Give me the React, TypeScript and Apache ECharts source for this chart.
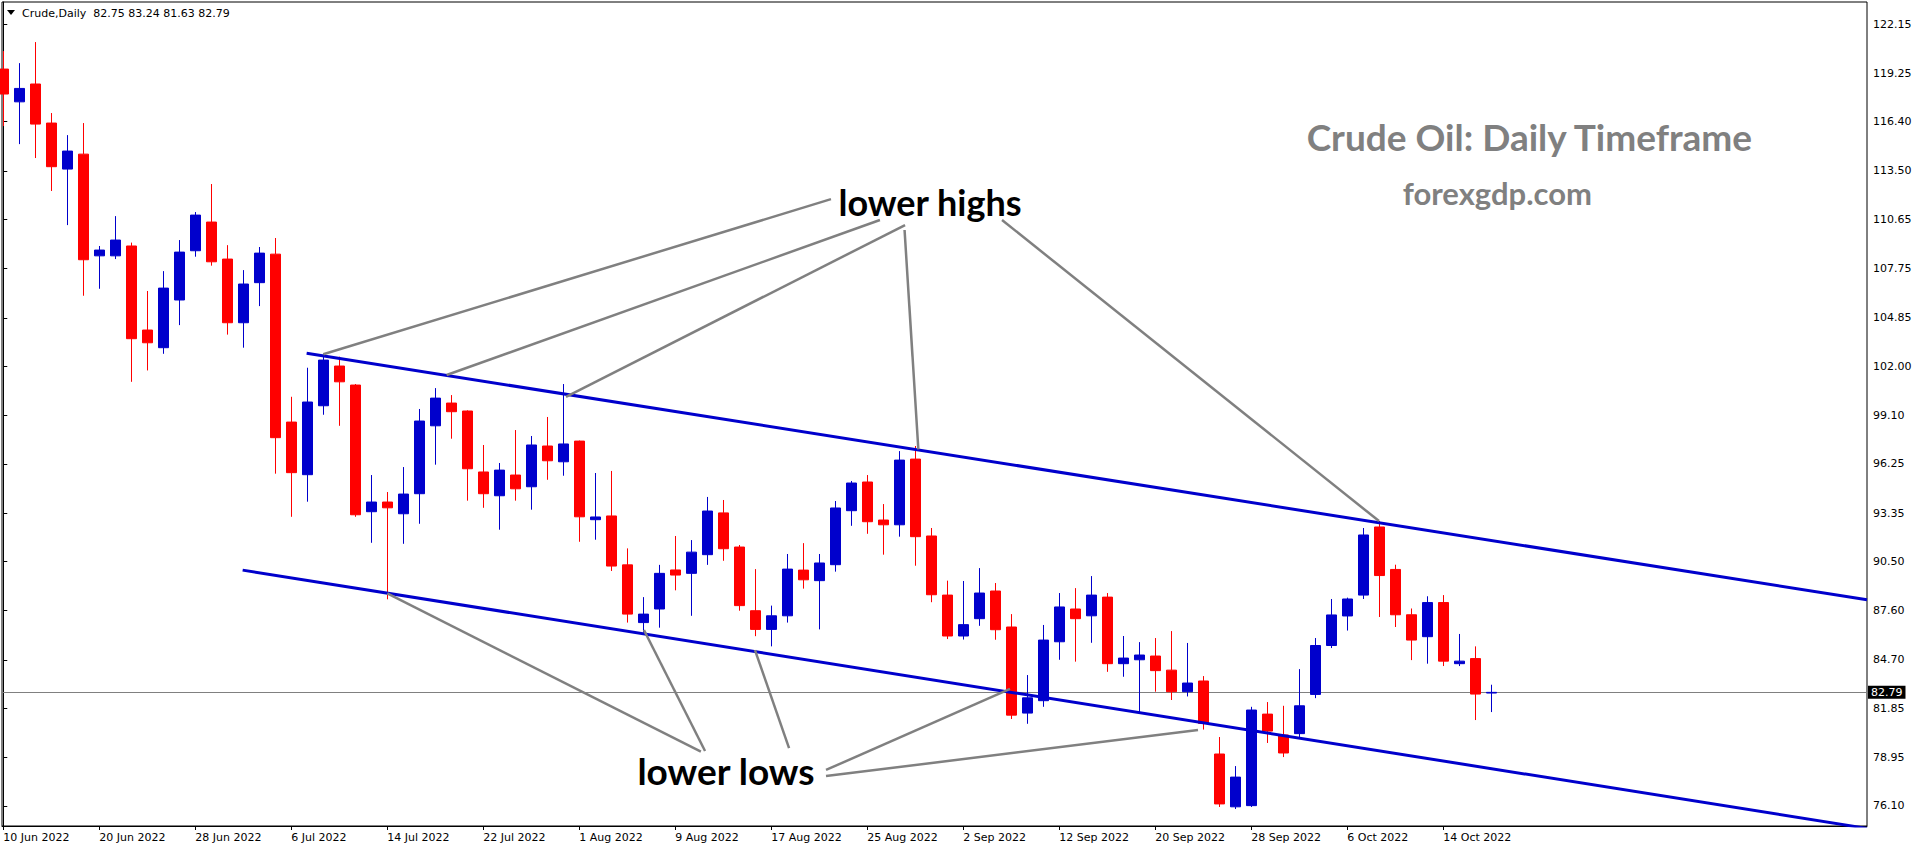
import React, { useEffect, useRef } from "react";
import * as echarts from "echarts";

// ---- data -------------------------------------------------------------
const dates = [
  "10 Jun 2022", "13 Jun 2022", "14 Jun 2022", "15 Jun 2022", "16 Jun 2022", "17 Jun 2022",
  "20 Jun 2022", "21 Jun 2022", "22 Jun 2022", "23 Jun 2022", "24 Jun 2022", "27 Jun 2022",
  "28 Jun 2022", "29 Jun 2022", "30 Jun 2022", "1 Jul 2022", "4 Jul 2022", "5 Jul 2022",
  "6 Jul 2022", "7 Jul 2022", "8 Jul 2022", "11 Jul 2022", "12 Jul 2022", "13 Jul 2022",
  "14 Jul 2022", "15 Jul 2022", "18 Jul 2022", "19 Jul 2022", "20 Jul 2022", "21 Jul 2022",
  "22 Jul 2022", "25 Jul 2022", "26 Jul 2022", "27 Jul 2022", "28 Jul 2022", "29 Jul 2022",
  "1 Aug 2022", "2 Aug 2022", "3 Aug 2022", "4 Aug 2022", "5 Aug 2022", "8 Aug 2022",
  "9 Aug 2022", "10 Aug 2022", "11 Aug 2022", "12 Aug 2022", "15 Aug 2022", "16 Aug 2022",
  "17 Aug 2022", "18 Aug 2022", "19 Aug 2022", "22 Aug 2022", "23 Aug 2022", "24 Aug 2022",
  "25 Aug 2022", "26 Aug 2022", "29 Aug 2022", "30 Aug 2022", "31 Aug 2022", "1 Sep 2022",
  "2 Sep 2022", "5 Sep 2022", "6 Sep 2022", "7 Sep 2022", "8 Sep 2022", "9 Sep 2022",
  "12 Sep 2022", "13 Sep 2022", "14 Sep 2022", "15 Sep 2022", "16 Sep 2022", "19 Sep 2022",
  "20 Sep 2022", "21 Sep 2022", "22 Sep 2022", "23 Sep 2022", "26 Sep 2022", "27 Sep 2022",
  "28 Sep 2022", "29 Sep 2022", "30 Sep 2022", "3 Oct 2022", "4 Oct 2022", "5 Oct 2022",
  "6 Oct 2022", "7 Oct 2022", "10 Oct 2022", "11 Oct 2022", "12 Oct 2022", "13 Oct 2022",
  "14 Oct 2022", "17 Oct 2022", "18 Oct 2022", "19 Oct 2022",
];

const opens = [
  119.5, 117.57, 118.62, 116.32, 113.61, 114.49, 108.5, 108.5, 109.08, 104.13,
  103.09, 105.9, 108.8, 110.49, 108.31, 104.56, 106.92, 108.6, 98.71, 95.61,
  99.67, 102.01, 100.89, 93.43, 94.0, 93.31, 94.49, 98.49, 99.83, 99.36,
  95.77, 94.37, 95.59, 94.9, 97.3, 96.37, 97.59, 92.96, 93.18, 90.3,
  86.9, 87.7, 90.0, 89.8, 90.9, 93.36, 91.35, 87.6, 86.5, 87.3,
  89.99, 89.37, 90.31, 93.49, 95.18, 92.94, 92.66, 96.53, 92.0, 88.52,
  86.11, 87.13, 88.76, 86.64, 81.57, 82.3, 85.77, 87.7, 87.3, 88.4,
  84.48, 84.71, 84.93, 84.1, 82.83, 83.46, 79.16, 76.05, 76.12, 81.51,
  80.28, 80.36, 82.67, 85.55, 87.29, 88.52, 92.53, 90.03, 87.36, 86.07,
  88.08, 84.48, 84.78, 82.75,
];
const highs = [
  120.56, 119.85, 121.09, 116.91, 115.61, 116.32, 109.08, 110.84, 109.28, 106.43,
  107.6, 109.43, 111.08, 112.73, 109.13, 107.66, 109.02, 109.55, 100.2, 101.91,
  102.73, 102.56, 100.95, 95.59, 94.59, 96.06, 99.48, 100.71, 100.3, 99.4,
  97.36, 96.3, 98.24, 97.89, 99.01, 100.95, 97.62, 95.71, 95.83, 91.27,
  88.4, 90.3, 92.0, 91.76, 94.3, 94.12, 91.47, 90.05, 87.9, 90.94,
  91.58, 90.94, 94.06, 95.24, 95.59, 93.88, 97.0, 97.3, 92.47, 89.37,
  89.35, 90.11, 89.23, 87.4, 83.81, 86.76, 88.64, 88.93, 89.64, 88.64,
  86.11, 85.75, 85.99, 86.4, 85.7, 83.75, 80.16, 78.45, 81.94, 82.22,
  82.0, 84.16, 85.99, 88.29, 88.37, 92.47, 92.88, 90.31, 87.73, 88.45,
  88.52, 86.23, 85.5, 83.24,
];
const lows = [
  116.14, 115.08, 114.26, 112.32, 110.31, 106.15, 106.56, 108.31, 101.08, 101.75,
  102.73, 104.42, 108.45, 107.92, 103.86, 103.09, 105.54, 95.67, 93.13, 94.02,
  99.14, 98.49, 93.13, 91.6, 88.27, 91.54, 92.72, 96.2, 97.73, 94.08,
  93.66, 92.37, 94.08, 93.55, 95.31, 95.55, 91.66, 91.78, 89.94, 86.9,
  86.3, 86.6, 88.8, 87.3, 90.3, 90.54, 87.6, 86.1, 85.5, 86.9,
  88.9, 86.5, 89.9, 92.6, 92.13, 90.9, 91.96, 90.25, 88.1, 85.93,
  85.9, 86.71, 85.89, 81.22, 80.94, 81.94, 84.71, 84.6, 85.71, 84.0,
  83.71, 81.53, 82.83, 82.34, 82.55, 80.6, 76.04, 75.92, 76.04, 79.81,
  78.98, 80.16, 82.45, 85.4, 86.43, 88.29, 87.23, 86.64, 84.69, 84.48,
  84.34, 84.34, 81.16, 81.63,
];
const closes = [
  118.03, 118.36, 116.26, 113.75, 114.67, 108.27, 108.84, 109.43, 103.62, 103.38,
  106.6, 108.72, 110.9, 108.15, 104.56, 106.84, 108.66, 97.79, 95.73, 99.89,
  102.36, 101.08, 93.25, 94.0, 93.66, 94.47, 98.77, 100.12, 99.32, 95.96,
  94.49, 95.88, 94.78, 97.36, 96.43, 97.42, 93.13, 93.12, 90.23, 87.4,
  87.4, 89.8, 89.7, 91.05, 93.47, 91.25, 87.9, 86.5, 87.3, 90.05,
  89.42, 90.41, 93.65, 95.12, 92.84, 92.66, 96.47, 91.96, 88.54, 86.11,
  86.78, 88.64, 86.48, 81.45, 82.47, 85.87, 87.82, 87.13, 88.52, 84.48,
  84.81, 84.99, 84.07, 82.83, 83.34, 80.96, 76.22, 77.8, 81.75, 80.51,
  79.22, 82.0, 85.55, 87.35, 88.29, 92.06, 89.67, 87.36, 85.87, 88.08,
  84.63, 84.63, 82.69, 82.79,
];

const priceTicks = [122.15, 119.25, 116.4, 113.5, 110.65, 107.75, 104.85, 102.0, 99.1, 96.25, 93.35, 90.5, 87.6, 84.7, 81.85, 78.95, 76.1];
const dateTickBars = [0, 6, 12, 18, 24, 30, 36, 42, 48, 54, 60, 66, 72, 78, 84, 90];
const lastPrice = 82.79;

// channel lines: [barIndex, price]
const upperChannel = [[18.96, 102.76], [116.48, 88.24]];
const lowerChannel = [[14.96, 89.99], [116.48, 74.78]];

// annotation pointer lines: [barIndex, price] pairs
const lowerHighLines = [
  [[20.0, 102.7], [51.73, 111.84]],
  [[27.71, 101.48], [54.79, 110.61]],
  [[35.17, 100.2], [56.36, 110.31]],
  [[57.19, 97.1], [56.33, 110.02]],
  [[85.98, 92.88], [62.42, 110.61]],
];
const lowerLowLines = [
  [[24.0, 88.62], [43.6, 79.3]],
  [[40.04, 86.46], [43.86, 79.34]],
  [[46.98, 85.28], [49.11, 79.51]],
  [[62.92, 82.99], [51.42, 78.22]],
  [[74.67, 80.57], [51.42, 77.86]],
];

const BLUE = "#0000CC";
const RED = "#FF0000";
const GRAY = "#808080";
const FONT = "DejaVu Sans";

export default function App() {
  const ref = useRef<HTMLDivElement>(null);

  useEffect(() => {
    if (!ref.current) return;
    const chart = echarts.init(ref.current, undefined, { renderer: "svg" });

    const candleData = opens.map((o, i) => [i, o, closes[i], lows[i], highs[i]]);

    const lineSeries = (pts: number[][], color: string, width: number, z: number) => ({
      type: "line",
      data: pts,
      showSymbol: false,
      symbol: "none",
      silent: true,
      z,
      lineStyle: { color, width, type: "solid" },
    });

    const option: any = {
      animation: false,
      backgroundColor: "#ffffff",
      grid: {
        left: 2,
        top: 2,
        width: 1865,
        height: 824,
        show: true,
        borderColor: "#000",
        borderWidth: 1,
        backgroundColor: "transparent",
      },
      xAxis: {
        type: "value",
        min: -0.08,
        max: 116.48,
        axisLine: { show: true, lineStyle: { color: "#000", width: 1 } },
        axisTick: { show: true, customValues: dateTickBars, length: 4, lineStyle: { color: "#000" } },
        axisLabel: {
          customValues: dateTickBars,
          formatter: (v: number) => dates[Math.round(v)] || "",
          align: "left",
          color: "#000",
          fontFamily: FONT,
          fontSize: 11,
          margin: 6,
        },
        splitLine: { show: false },
      },
      yAxis: {
        type: "value",
        position: "right",
        min: 74.92,
        max: 123.45,
        axisLine: { show: true, lineStyle: { color: "#000", width: 1 } },
        axisTick: { show: true, customValues: priceTicks, length: 4, lineStyle: { color: "#000" } },
        axisLabel: {
          customValues: priceTicks,
          formatter: (v: number) => v.toFixed(2),
          color: "#000",
          fontFamily: FONT,
          fontSize: 11,
          margin: 6,
        },
        splitLine: { show: false },
      },
      series: [
        {
          type: "candlestick",
          data: candleData,
          barWidth: 10,
          z: 3,
          itemStyle: {
            color: BLUE,
            color0: RED,
            borderColor: BLUE,
            borderColor0: RED,
            borderWidth: 1,
          },
          markLine: {
            silent: true,
            symbol: "none",
            z: 1,
            data: [{ yAxis: lastPrice }],
            lineStyle: { color: GRAY, width: 1, type: "solid" },
            label: {
              show: true,
              position: "end",
              distance: 1,
              formatter: lastPrice.toFixed(2),
              backgroundColor: "#000",
              color: "#fff",
              fontFamily: FONT,
              fontSize: 11,
              padding: [1, 3, 1, 3],
            },
          },
        },
        lineSeries(upperChannel, BLUE, 3, 5),
        lineSeries(lowerChannel, BLUE, 3, 5),
        ...lowerHighLines.map((l) => lineSeries(l, GRAY, 2.5, 6)),
        ...lowerLowLines.map((l) => lineSeries(l, GRAY, 2.5, 6)),
      ],
      graphic: [
        {
          type: "polygon",
          shape: { points: [[7, 10], [15, 10], [11, 15]] },
          style: { fill: "#000" },
        },
        {
          type: "text",
          x: 22,
          y: 13,
          style: {
            text: "Crude,Daily  82.75 83.24 81.63 82.79",
            fill: "#000",
            font: `11px "${FONT}"`,
            verticalAlign: "middle",
          },
        },
        {
          type: "text",
          x: 1752,
          y: 136,
          style: {
            text: "Crude Oil: Daily Timeframe",
            fill: GRAY,
            font: `bold 37px Lato`,
            align: "right",
            verticalAlign: "middle",
          },
        },
        {
          type: "text",
          x: 1592,
          y: 193,
          style: {
            text: "forexgdp.com",
            fill: GRAY,
            font: `bold 31px Lato`,
            align: "right",
            verticalAlign: "middle",
          },
        },
        {
          type: "text",
          x: 930,
          y: 202,
          z: 10,
          style: {
            text: "lower highs",
            fill: "#000",
            font: `bold 36px Lato`,
            align: "center",
            verticalAlign: "middle",
          },
        },
        {
          type: "text",
          x: 726,
          y: 770,
          z: 10,
          style: {
            text: "lower lows",
            fill: "#000",
            font: `bold 37px Lato`,
            align: "center",
            verticalAlign: "middle",
          },
        },
      ],
    };

    chart.setOption(option);
    return () => chart.dispose();
  }, []);

  return (
    <div
      ref={ref}
      style={{ position: "absolute", left: 0, top: 0, width: 1916, height: 850, background: "#fff" }}
    />
  );
}
